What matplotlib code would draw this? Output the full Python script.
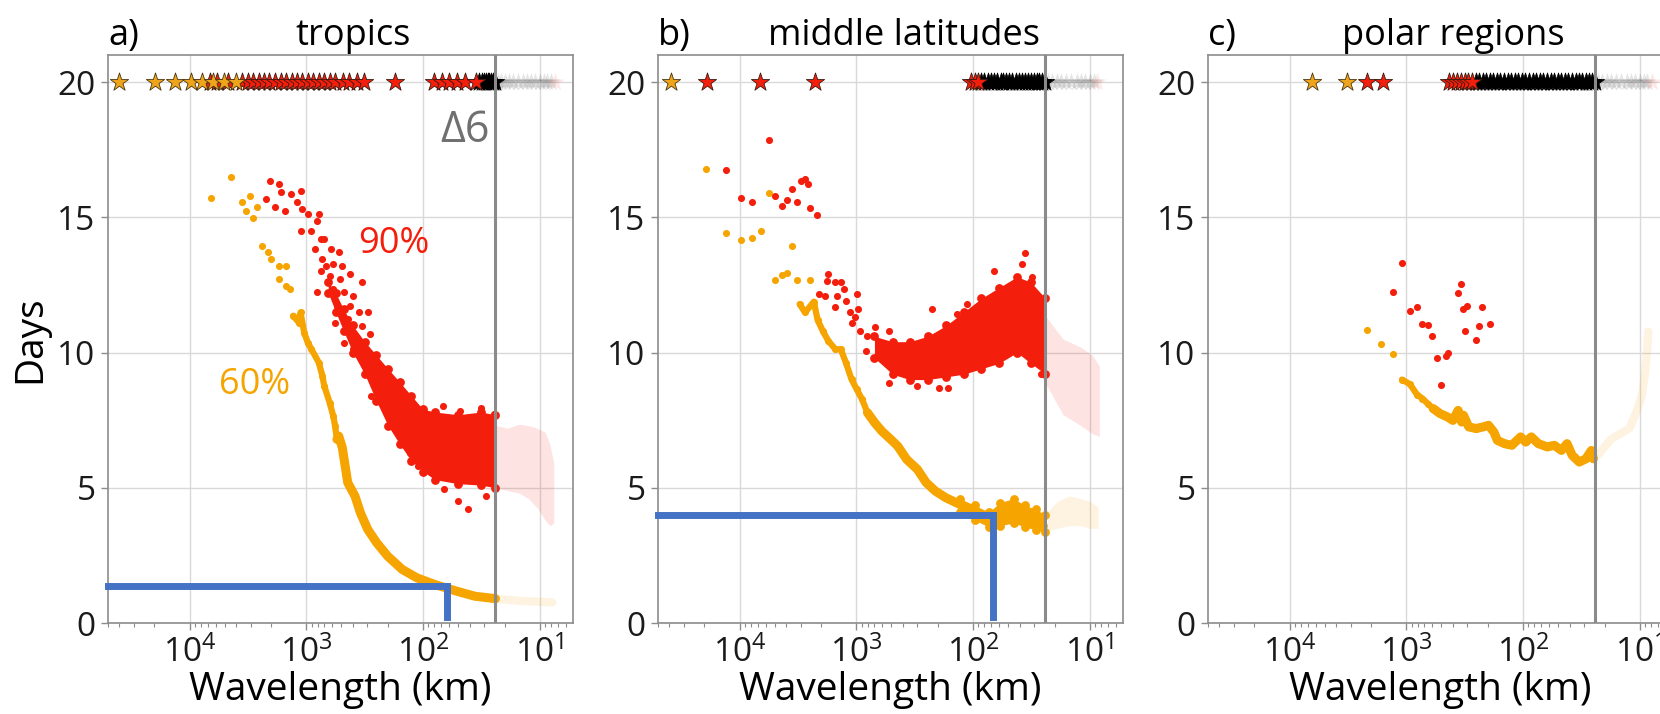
import matplotlib.pyplot as plt
import numpy as np

plt.rcParams["font.family"] = ["Open Sans", "DejaVu Sans"]
plt.rcParams["mathtext.fontset"] = "custom"
plt.rcParams["mathtext.rm"] = "Open Sans"
plt.rcParams["mathtext.it"] = "Open Sans:italic"
plt.rcParams["mathtext.bf"] = "Open Sans:bold"

ORANGE = "#f5a400"
RED = "#f41e0c"
BLUE = "#4472c4"
CUT_KM = 24.0          # Δ6 wavelength
XLIM = (5.0e4, 5.2)
STAR_DAYS = 20

# ---------------- a) tropics ----------------
a_or_wl = [6590, 4390, 3590, 3020, 3290, 2650, 2850, 2380, 2140, 1990, 1730, 1490, 1730, 1490,
           1370, 1295, 1122, 1160, 1044, 973, 904, 783, 729, 703, 632, 588, 567, 528, 492, 547,
           442, 383, 344, 298, 249, 201, 151, 113, 79, 51, 36, 24]
a_or_days = [15.72, 16.48, 15.56, 15.78, 15.25, 15.37, 14.98, 13.95, 13.70, 13.46, 13.21, 13.21,
             12.72, 12.47, 12.35, 11.36, 11.48, 11.11, 10.74, 10.37, 10.12, 9.63, 9.14, 8.77,
             8.15, 7.65, 7.28, 6.91, 6.48, 6.79, 5.19, 4.69, 4.07, 3.46, 2.96, 2.47, 1.98, 1.67,
             1.42, 1.17, 0.99, 0.90]
a_or_fade_wl = [22, 18, 15, 12, 10, 8.5, 7.8]
a_or_fade_days = [0.88, 0.85, 0.82, 0.80, 0.78, 0.77, 0.76]

a_rd_wl = [2065, 1727, 2220, 1665, 1343, 1107, 1855, 1517, 1205, 1082, 972, 784, 813, 1122, 904,
           756, 703, 841, 610, 528, 729, 679, 588, 492, 756, 632, 510, 426, 331, 813, 588, 474,
           396, 547, 426, 356, 298, 567, 442, 331, 474, 383, 287, 396, 331, 249, 277, 187, 68,
           48, 32, 24.5, 41, 50, 66, 29, 110, 130]
a_rd_days = [16.36, 16.23, 15.68, 15.93, 15.86, 15.99, 15.37, 15.25, 15.56, 15.31, 15.12, 15.12,
             14.88, 14.51, 14.51, 14.20, 14.20, 13.83, 13.83, 13.70, 13.46, 13.21, 13.27, 13.21,
             13.02, 12.84, 12.72, 12.90, 12.59, 12.22, 12.35, 12.22, 12.10, 11.73, 11.73, 11.48,
             11.48, 11.11, 11.23, 10.99, 10.37, 10.62, 10.68, 10.12, 9.88, 9.63, 8.40, 8.15,
             8.02, 7.84, 7.96, 7.72, 4.20, 4.51, 4.94, 4.69, 5.80, 6.30]
a_band_wl = [650, 560, 480, 400, 316, 251, 200, 158, 126, 100, 79, 50, 32, 24]
a_band_lo = [12.2, 11.5, 10.8, 10.0, 9.2, 8.2, 7.3, 6.6, 6.0, 5.6, 5.3, 5.15, 5.1, 5.0]
a_band_hi = [12.6, 12.2, 11.6, 11.0, 10.4, 9.9, 9.4, 8.9, 8.4, 7.9, 7.8, 7.7, 7.8, 7.7]
a_fade_wl = [23.5, 19, 15, 12.5, 10.5, 9, 8.2, 7.6]
a_fade_lo = [5.0, 4.9, 4.8, 4.6, 4.25, 3.8, 3.6, 3.7]
a_fade_hi = [7.3, 7.2, 7.35, 7.3, 7.2, 7.05, 6.6, 5.9]

a_star_orange = [40000, 19800, 13300, 9800, 7900, 6300, 5100, 4000]
a_star_red = [6740, 5840, 4710, 3530, 3170, 2850, 2560, 2300, 2070, 1850, 1660, 1490, 1340, 1210,
              1080, 970, 870, 780, 700, 630, 570, 490, 430, 370, 320, 174, 80, 69, 60, 51, 44, 35]
a_star_black = [33, 31.5, 30, 29, 28, 27, 26, 25, 24.2]
a_star_fade = [23, 21.5, 20, 18.5, 17, 15.5, 14, 13, 12, 11, 10, 9.3, 8.7, 8.1]
a_star_red_fade = [7.4]
a_blue_wl = [XLIM[0], 63, 63]
a_blue_days = [1.36, 1.36, 0.22]

# ---------------- b) middle latitudes ----------------
b_or_wl = [19500, 5650, 13100, 9790, 7820, 6500, 3580, 4940, 4350, 3920, 3240, 2480, 3060, 2750,
           2310, 2150, 1940, 1740, 1510, 1360, 1230, 1100, 993, 893, 804, 698, 607, 508, 442,
           371, 300, 252, 211, 171, 129, 97, 73, 59, 45, 36, 29, 25]
b_or_days = [16.77, 15.90, 14.42, 14.17, 14.22, 14.51, 13.93, 12.68, 12.86, 12.94, 12.68, 12.68,
             11.79, 11.48, 11.88, 11.21, 10.80, 10.43, 10.12, 10.12, 9.63, 9.01, 8.64, 8.27,
             7.78, 7.41, 7.10, 6.79, 6.54, 6.05, 5.68, 5.19, 4.88, 4.63, 4.38, 4.14, 3.83, 4.07,
             4.26, 4.01, 3.83, 3.58]
b_or_band_wl = [130, 97, 73, 59, 45, 36, 29, 24]
b_or_band_lo = [4.1, 3.8, 3.55, 3.6, 3.7, 3.55, 3.45, 3.35]
b_or_band_hi = [4.6, 4.35, 4.1, 4.45, 4.6, 4.35, 4.2, 4.0]
b_or_fade_wl = [23, 19, 15, 12, 10, 8.5]
b_or_fade_lo = [3.4, 3.5, 3.6, 3.6, 3.5, 3.5]
b_or_fade_hi = [4.1, 4.5, 4.7, 4.6, 4.5, 4.3]

b_rd_wl = [5650, 13100, 9790, 7820, 4940, 4350, 3920, 3580, 3240, 2960, 2760, 2620, 2480, 2180,
           1750, 1800, 1510, 1360, 2080, 1870, 1460, 1270, 993, 1230, 1510, 1140, 960, 1030, 1100,
           925, 804, 698, 527, 832, 650, 565, 527, 397, 226, 138, 112, 66, 36, 38, 31, 197, 165,
           300, 62, 26]
b_rd_days = [17.84, 16.73, 15.72, 15.58, 15.80, 15.40, 15.64, 16.05, 15.58, 16.36, 16.40, 16.23,
             15.33, 15.10, 12.90, 12.65, 12.59, 12.59, 12.16, 12.10, 12.10, 12.35, 12.16, 11.91,
             11.67, 11.48, 11.60, 11.30, 11.11, 10.80, 10.62, 10.93, 10.80, 10.06, 10.25, 9.75,
             8.89, 10.19, 11.60, 11.42, 11.79, 13.02, 13.68, 13.27, 12.78, 8.70, 8.70, 8.77,
             9.69, 9.20]
b_band_wl = [700, 490, 350, 245, 170, 120, 85, 60, 42, 32, 24]
b_band_lo = [9.8, 9.2, 9.0, 9.0, 9.1, 9.2, 9.4, 9.6, 10.0, 9.6, 9.2]
b_band_hi = [10.6, 10.4, 10.4, 10.6, 11.0, 11.5, 12.0, 12.4, 12.8, 12.6, 12.0]
b_fade_wl = [23.5, 17, 12, 9.5, 8.3]
b_fade_lo = [8.8, 7.7, 7.3, 7.0, 6.9]
b_fade_hi = [11.3, 10.5, 10.2, 9.9, 9.5]

b_star_orange = [38700]
b_star_red = [19100, 6750, 2270, 104, 96, 90]
b_star_black = [85, 80, 75, 70, 66, 62, 58, 55, 52, 49, 46, 43, 40.5, 38, 36, 34, 32, 30, 28.5,
                27, 25.5, 24.2]
b_star_fade = [23, 21, 19, 17.5, 16, 14.5, 13, 12, 11, 10, 9.3]
b_star_red_fade = [8.6]
b_blue_wl = [XLIM[0], 68, 68]
b_blue_days = [3.98, 3.98, 0.22]

# ---------------- c) polar regions ----------------
c_or_wl = [2170, 1640, 1300, 1089, 932, 809, 728, 656, 590, 513, 445, 400, 360, 324, 336, 292,
           253, 220, 198, 178, 166, 144, 125, 105, 95, 85, 74, 62, 54, 47, 42, 38, 33, 29, 26, 25]
c_or_days = [10.83, 10.31, 9.93, 9.00, 8.83, 8.44, 8.30, 8.11, 7.93, 7.74, 7.62, 7.49, 7.86,
             7.68, 7.43, 7.25, 7.19, 7.25, 7.31, 7.06, 6.75, 6.63, 6.57, 6.88, 6.69, 6.88, 6.63,
             6.51, 6.57, 6.38, 6.63, 6.20, 5.95, 6.07, 6.38, 6.07]
c_or_fade_wl = [23, 17.5, 12.3, 10.7, 9.6, 9.0, 8.6, 8.5]
c_or_fade_days = [6.2, 6.81, 7.19, 7.80, 8.42, 9.28, 10.27, 10.77]

c_rd_wl = [1089, 1300, 932, 809, 728, 656, 598, 542, 461, 436, 501, 360, 343, 329, 302, 223, 313,
           239, 253, 191]
c_rd_days = [13.30, 12.25, 11.53, 11.69, 11.04, 11.01, 10.62, 9.80, 9.88, 10.00, 8.79, 12.21,
             12.53, 11.60, 11.73, 11.69, 10.79, 10.99, 10.48, 11.07]

c_star_orange = [6460, 3240]
c_star_red = [2170, 1600, 430, 395, 365, 340, 315, 295, 275]
c_star_black = [255, 238, 222, 207, 193, 180, 168, 157, 146, 136, 127, 118, 110, 103, 96, 89, 83,
                77, 72, 67, 62, 58, 54, 50, 47, 44, 41, 38, 35.5, 33, 31, 29, 27, 25.5, 24.2]
c_star_fade = [23, 21, 19, 17.5, 16, 14.5, 13, 12, 11, 10, 9.3, 8.7]
c_star_red_fade = [7.9]

panels = [
    dict(letter="a)", title="tropics",
         or_wl=a_or_wl, or_days=a_or_days, rd_wl=a_rd_wl, rd_days=a_rd_days,
         band=(a_band_wl, a_band_lo, a_band_hi), fade=(a_fade_wl, a_fade_lo, a_fade_hi),
         or_band=None, or_fade_band=None, or_fade_line=(a_or_fade_wl, a_or_fade_days),
         stars=(a_star_black, a_star_red, a_star_orange, a_star_fade, a_star_red_fade),
         blue=(a_blue_wl, a_blue_days), line_below=11.5, thick_below=7.0),
    dict(letter="b)", title="middle latitudes",
         or_wl=b_or_wl, or_days=b_or_days, rd_wl=b_rd_wl, rd_days=b_rd_days,
         band=(b_band_wl, b_band_lo, b_band_hi), fade=(b_fade_wl, b_fade_lo, b_fade_hi),
         or_band=(b_or_band_wl, b_or_band_lo, b_or_band_hi),
         or_fade_band=(b_or_fade_wl, b_or_fade_lo, b_or_fade_hi), or_fade_line=None,
         stars=(b_star_black, b_star_red, b_star_orange, b_star_fade, b_star_red_fade),
         blue=(b_blue_wl, b_blue_days), line_below=12.0, thick_below=8.0),
    dict(letter="c)", title="polar regions",
         or_wl=c_or_wl, or_days=c_or_days, rd_wl=c_rd_wl, rd_days=c_rd_days,
         band=None, fade=None, or_band=None, or_fade_band=None,
         or_fade_line=(c_or_fade_wl, c_or_fade_days),
         stars=(c_star_black, c_star_red, c_star_orange, c_star_fade, c_star_red_fade),
         blue=None, line_below=9.5, thick_below=8.0),
]

FS_TICK = 24
FS_TITLE = 26
FS_LABEL = 28
FS_ANN = 26
STAR_S = 190

fig = plt.figure(figsize=(16.6, 7.14), dpi=100)
lefts = [108 / 1660, 658 / 1660, 1208 / 1660]
axes = [fig.add_axes([l, 91 / 714, 465 / 1660, 568 / 714]) for l in lefts]

for ax, p in zip(axes, panels):
    ax.set_xscale("log")
    ax.set_xlim(*XLIM)
    ax.set_ylim(0, 21)
    ax.set_yticks([0, 5, 10, 15, 20])
    ax.grid(True, which="major", color="#d9d9d9", lw=1.0)
    ax.set_axisbelow(True)
    for s in ax.spines.values():
        s.set_color("#8c8c8c")
        s.set_linewidth(1.2)
    ax.tick_params(which="both", colors="#8c8c8c", labelcolor="#1a1a1a", labelsize=FS_TICK)
    ax.tick_params(which="major", length=5, width=1, pad=4)
    ax.tick_params(which="minor", length=3, width=0.8)

    # faded data beyond the Δ6 cut
    if p["fade"]:
        wl, lo, hi = p["fade"]
        ax.fill_between(wl, lo, hi, color=RED, alpha=0.12, lw=0)
    if p["or_fade_band"]:
        wl, lo, hi = p["or_fade_band"]
        ax.fill_between(wl, lo, hi, color=ORANGE, alpha=0.12, lw=0)
    if p["or_fade_line"]:
        wl, d = p["or_fade_line"]
        ax.plot(wl, d, color=ORANGE, alpha=0.12, lw=6, solid_capstyle="round")

    # 60% curve
    wl = np.array(p["or_wl"], dtype=float)
    d = np.array(p["or_days"], dtype=float)
    m = d < p["line_below"]
    order = np.argsort(wl[m])[::-1]
    ax.plot(wl[m][order], d[m][order], color=ORANGE, lw=4.5, solid_capstyle="round", zorder=2)
    m2 = d < p["thick_below"]
    order2 = np.argsort(wl[m2])[::-1]
    ax.plot(wl[m2][order2], d[m2][order2], color=ORANGE, lw=6.5, solid_capstyle="round", zorder=2)
    ax.scatter(wl, d, s=26, color=ORANGE, lw=0, zorder=2)
    if p["or_band"]:
        bw, lo, hi = p["or_band"]
        ax.fill_between(bw, lo, hi, color=ORANGE, lw=0, zorder=2)
        ax.scatter(bw + bw, lo + hi, s=40, color=ORANGE, lw=0, zorder=2)

    # 90% curve
    if p["band"]:
        bw, lo, hi = p["band"]
        ax.fill_between(bw, lo, hi, color=RED, lw=0, zorder=3)
        ax.scatter(bw + bw, lo + hi, s=40, color=RED, lw=0, zorder=3)
    ax.scatter(p["rd_wl"], p["rd_days"], s=26, color=RED, lw=0, zorder=3)

    # stars for scales that never reach the threshold
    blk, rd, orn, fade, rfade = p["stars"]
    ax.scatter(fade, [STAR_DAYS] * len(fade), marker="*", s=STAR_S, color="k", alpha=0.1, lw=0, zorder=4)
    ax.scatter(rfade, [STAR_DAYS] * len(rfade), marker="*", s=STAR_S, color=RED, alpha=0.1, lw=0, zorder=4)
    ax.scatter(blk, [STAR_DAYS] * len(blk), marker="*", s=STAR_S, color="k", edgecolors="k", lw=0.5, zorder=4)
    ax.scatter(rd, [STAR_DAYS] * len(rd), marker="*", s=STAR_S, color=RED, edgecolors="#3a1a10", lw=0.6, zorder=4)
    ax.scatter(orn, [STAR_DAYS] * len(orn), marker="*", s=STAR_S, color="#eea51c", edgecolors="#4a3510", lw=0.6, zorder=4)

    ax.axvline(CUT_KM, color="#8a8a8a", lw=2.2, zorder=5)

    if p["blue"]:
        bw, bd = p["blue"]
        ax.plot(bw, bd, color=BLUE, lw=5, solid_joinstyle="miter", zorder=6, clip_on=False)

    ax.set_title(p["title"], fontsize=FS_TITLE, pad=7, x=0.528)
    ax.set_title(p["letter"], loc="left", fontsize=FS_TITLE, pad=7)
    ax.set_xlabel("Wavelength (km)", fontsize=FS_LABEL, labelpad=1)

axes[0].set_ylabel("Days", fontsize=FS_LABEL, labelpad=6)
axes[0].text(360, 14.0, "90%", color=RED, fontsize=FS_ANN, ha="left", va="center")
axes[0].text(5600, 8.8, "60%", color=ORANGE, fontsize=FS_ANN, ha="left", va="center")
axes[0].text(27, 18.2, "Δ6", color="#707070", fontsize=31, ha="right", va="center")

fig.savefig("out.png", dpi=100)
